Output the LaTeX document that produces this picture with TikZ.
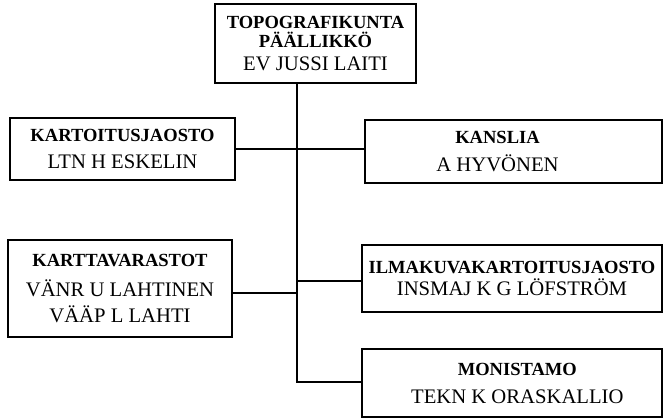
\documentclass[tikz,border=0pt]{standalone}
\usepackage{fontspec}
\setmainfont{Liberation Serif}
\newcommand\hdfont{\fontsize{13.9}{13.5}\selectfont\bfseries}
\newcommand\rgfont{\fontsize{15.5}{13.5}\selectfont}
\begin{document}
\begin{tikzpicture}[x=0.75pt,y=-0.75pt,
  box/.style={draw, line width=1.1pt, rectangle, inner sep=0pt, align=center,
    font={\rgfont\lineskiplimit=-50pt}},
  link/.style={line width=1.1pt}]
\useasboundingbox (0,0) rectangle (665,419);

\node[box, minimum width=150.75pt, minimum height=59.25pt] (top) at (315.5,43.5)
  {{\hdfont TOPOGRAFIKUNTA}\\[0.5pt]{\hdfont PÄÄLLIKKÖ}\\[4pt]EV JUSSI LAITI};
\node[box, minimum width=168.75pt, minimum height=46.5pt] (kart) at (122.5,149)
  {{\hdfont KARTOITUSJAOSTO}\\[6.5pt]LTN H ESKELIN};
\node[box, minimum width=222.75pt, minimum height=47.25pt] (kanslia) at (513.5,151.5)
  {{\hdfont KANSLIA}\hspace*{24pt}\\[7pt]A HYVÖNEN\hspace*{24pt}};
\node[box, minimum width=168pt, minimum height=72.75pt] (kartta) at (120,288.5)
  {{\hdfont KARTTAVARASTOT}\\[9pt]VÄNR U LAHTINEN\\[6pt]VÄÄP L LAHTI};
\node[box, minimum width=225pt, minimum height=50.25pt] (ilma) at (512,278.5)
  {{\hdfont ILMAKUVAKARTOITUSJAOSTO}\\[3pt]INSMAJ K G LÖFSTRÖM};
\node[box, minimum width=225pt, minimum height=51pt] (monist) at (512,383)
  {\hspace*{8pt}{\hdfont MONISTAMO}\\[7.5pt]\hspace*{8pt}TEKN K ORASKALLIO};

\coordinate (j1) at (297,293);
\coordinate (j2) at (297,281);
\coordinate (j3) at (297,382);
\coordinate (j0) at (297,149);

\draw[link] (top.south -| j3) -- (j3) -- (j3 -| monist.west);
\draw[link] (j0 -| kart.east) -- (j0 -| kanslia.west);
\draw[link] (j1 -| kartta.east) -- (j1);
\draw[link] (j2) -- (j2 -| ilma.west);
\end{tikzpicture}
\end{document}
